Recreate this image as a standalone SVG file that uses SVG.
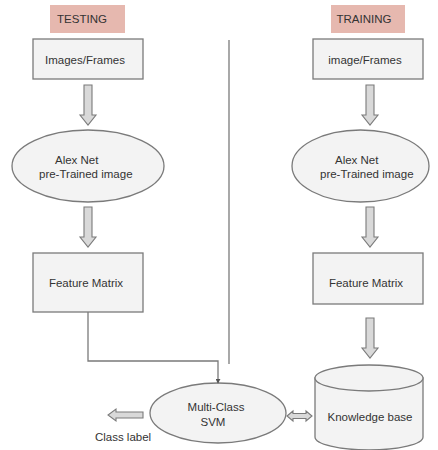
<svg xmlns="http://www.w3.org/2000/svg" width="438" height="450" viewBox="0 0 438 450">
<defs>
<style>
.lbl{fill:#e6b8af;stroke:none}
.box{fill:#f3f3f3;stroke:#7a7a7a;stroke-width:1.3}
.ar{fill:#d9d9d9;stroke:#7a7a7a;stroke-width:1.1}
.t{font-family:"Liberation Sans",Arial,sans-serif;font-size:11.5px;fill:#333}
.c{text-anchor:middle}
.ln{fill:none;stroke:#7a7a7a;stroke-width:1.3}
</style>
<marker id="ah" viewBox="0 0 6 6" refX="5" refY="3" markerWidth="5" markerHeight="5" orient="auto" markerUnits="userSpaceOnUse">
<path d="M0,0 L6,3 L0,6 Z" fill="#555"/>
</marker>
</defs>
<rect width="438" height="450" fill="#fff"/>
<g id="testing-label"><rect class="lbl" x="50" y="5" width="75" height="28"/><text class="t c" x="82" y="23">TESTING</text></g>
<g id="training-label"><rect class="lbl" x="331" y="5" width="74" height="28"/><text class="t c" x="364" y="23">TRAINING</text></g>
<g id="test-images"><rect class="box" x="33" y="39" width="110" height="40"/><text class="t c" x="85" y="64">Images/Frames</text></g>
<g id="train-images"><rect class="box" x="313" y="39" width="110" height="40"/><text class="t c" x="365" y="64">image/Frames</text></g>
<g id="test-alexnet"><ellipse class="box" cx="88" cy="166" rx="76" ry="36"/><text class="t" x="55" y="164">Alex Net</text><text class="t" x="39" y="178">pre-Trained image</text></g>
<g id="train-alexnet"><ellipse class="box" cx="360.5" cy="166" rx="68.5" ry="36"/><text class="t" x="335" y="164">Alex Net</text><text class="t" x="320" y="178">pre-Trained image</text></g>
<g id="test-feature"><rect class="box" x="33" y="253" width="110" height="59"/><text class="t c" x="86" y="287">Feature Matrix</text></g>
<g id="train-feature"><rect class="box" x="313" y="253" width="110" height="51"/><text class="t c" x="366" y="287">Feature Matrix</text></g>
<g id="svm"><ellipse class="box" cx="218" cy="413" rx="68" ry="30"/><text class="t c" x="216" y="411">Multi-Class</text><text class="t c" x="213" y="426">SVM</text></g>
<g id="knowledge-base">
<path class="box" d="M315,378 V437 A54,13 0 0 0 423,437 V378 Z"/>
<ellipse class="box" cx="369" cy="378" rx="54" ry="13"/>
<text class="t c" x="370" y="421">Knowledge base</text>
</g>
<g id="class-label"><text class="t c" x="123" y="441">Class label</text></g>
<g id="connectors">
<line class="ln" x1="229" y1="40" x2="229" y2="364"/>
<path class="ar" d="M84,85 H92 V115 H96 L88,125 L80,115 H84 Z"/>
<path class="ar" d="M366,85 H374 V115 H378 L370,125 L362,115 H366 Z"/>
<path class="ar" d="M84,207 H92 V237 H96 L88,247 L80,237 H84 Z"/>
<path class="ar" d="M366,207 H374 V237 H378 L370,247 L362,237 H366 Z"/>
<path class="ar" d="M366,318 H374 V348 H378 L370,358 L362,348 H366 Z"/>
<polyline class="ln" points="88,312 88,361 218,361 218,383" marker-end="url(#ah)"/>
<path class="ar" d="M143,412 V418 H116 V421 L108,415 L116,409 V412 Z"/>
<path class="ar" d="M287,416 L293,411 V413.5 H306 V411 L312,416 L306,421 V418.5 H293 V421 Z"/>
</g>
</svg>
